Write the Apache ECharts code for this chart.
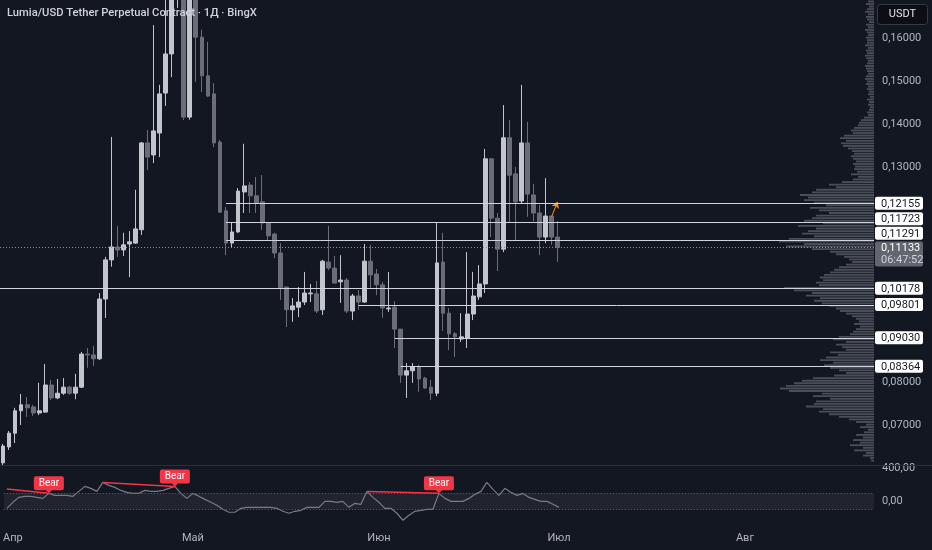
<!DOCTYPE html>
<html><head><meta charset="utf-8">
<script src="https://cdn.jsdelivr.net/npm/echarts@6/dist/echarts.min.js"></script>
<style>html,body{margin:0;padding:0;background:#131722;}#c{width:932px;height:550px;}</style>
</head><body><div id="c"></div>
<script>
const chartTitle = 'Lumia/USD Tether Perpetual Contract · 1Д · BingX';
const quoteCurrency = 'USDT';
const firstDay = [2025, 2, 31];
const totalDays = 145;
const monthNames = ['Янв','Фев','Мар','Апр','Май','Июн','Июл','Авг','Сен','Окт','Ноя','Дек'];
const priceTickValues = [0.07, 0.08, 0.13, 0.14, 0.15, 0.16];
const oscTickValues = [0, 400];
// [open, close, low, high]
const candles = [
[0.0612,0.0651,0.0607,0.0656],[0.0649,0.0681,0.0642,0.0686],[0.0681,0.0733,0.0658,0.0740],
[0.0733,0.0747,0.0700,0.0772],[0.0747,0.0740,0.0719,0.0765],[0.0742,0.0728,0.0721,0.0747],
[0.0728,0.0733,0.0723,0.0798],[0.0730,0.0793,0.0728,0.0842],[0.0793,0.0763,0.0758,0.0805],
[0.0763,0.0774,0.0760,0.0807],[0.0774,0.0788,0.0770,0.0809],[0.0788,0.0774,0.0770,0.0791],
[0.0774,0.0788,0.0760,0.0819],[0.0788,0.0865,0.0786,0.0870],[0.0865,0.0863,0.0833,0.0879],
[0.0863,0.0854,0.0837,0.0884],[0.0854,0.0993,0.0851,0.1007],[0.0993,0.1084,0.0949,0.1091],
[0.1084,0.1114,0.1068,0.1370],[0.1114,0.1107,0.1091,0.1163],[0.1107,0.1119,0.1093,0.1147],
[0.1121,0.1126,0.1044,0.1151],[0.1123,0.1156,0.1121,0.1247],[0.1154,0.1356,0.1142,0.1358],
[0.1356,0.1323,0.1293,0.1386],[0.1328,0.1384,0.1309,0.1630],[0.1379,0.1470,0.1323,0.1491],
[0.1472,0.1563,0.1442,0.1720],[0.1563,0.1760,0.1509,0.1820],[0.1760,0.1850,0.1670,0.1950],
[0.1870,0.1416,0.1409,0.1950],[0.1416,0.1800,0.1410,0.1850],[0.1780,0.1602,0.1498,0.1830],
[0.1602,0.1512,0.1474,0.1619],[0.1512,0.1465,0.1463,0.1591],[0.1470,0.1356,0.1346,0.1495],
[0.1358,0.1195,0.1193,0.1363],[0.1198,0.1123,0.1095,0.1207],[0.1123,0.1149,0.1112,0.1170],
[0.1149,0.1244,0.1147,0.1251],[0.1242,0.1256,0.1193,0.1354],[0.1258,0.1233,0.1193,0.1265],
[0.1233,0.1216,0.1193,0.1277],[0.1219,0.1170,0.1154,0.1281],[0.1170,0.1140,0.1130,0.1172],
[0.1144,0.1100,0.1088,0.1147],[0.1100,0.1019,0.0991,0.1123],[0.1021,0.0968,0.0928,0.1021],
[0.0968,0.0977,0.0940,0.0995],[0.0974,0.0986,0.0951,0.1021],[0.0986,0.1007,0.0979,0.1056],
[0.1005,0.1007,0.0986,0.1028],[0.1005,0.0965,0.0960,0.1035],[0.0968,0.1081,0.0956,0.1084],
[0.1079,0.1065,0.1060,0.1163],[0.1065,0.1030,0.1030,0.1093],[0.1033,0.1037,0.0984,0.1095],
[0.1037,0.0965,0.0960,0.1042],[0.0965,0.1000,0.0944,0.1005],[0.1000,0.0986,0.0968,0.1014],
[0.0986,0.1081,0.0984,0.1121],[0.1081,0.1049,0.1019,0.1119],[0.1051,0.1026,0.1002,0.1063],
[0.1026,0.0972,0.0949,0.1033],[0.0970,0.0972,0.0963,0.1056],[0.0974,0.0923,0.0879,0.0988],
[0.0923,0.0816,0.0798,0.0923],[0.0816,0.0826,0.0763,0.0844],[0.0826,0.0835,0.0798,0.0844],
[0.0835,0.0807,0.0777,0.0840],[0.0809,0.0786,0.0784,0.0812],[0.0788,0.0774,0.0758,0.0805],
[0.0774,0.1077,0.0767,0.1172],[0.1079,0.0960,0.0919,0.1147],[0.0960,0.0912,0.0874,0.0972],
[0.0912,0.0905,0.0858,0.0916],[0.0900,0.0905,0.0893,0.0960],[0.0902,0.0958,0.0879,0.1102],
[0.0958,0.1000,0.0944,0.1056],[0.0998,0.1028,0.0991,0.1072],[0.1028,0.1319,0.1007,0.1342],
[0.1319,0.1181,0.1137,0.1321],[0.1181,0.1109,0.1058,0.1193],[0.1109,0.1368,0.1102,0.1444],
[0.1368,0.1281,0.1172,0.1409],[0.1284,0.1219,0.1130,0.1300],[0.1221,0.1356,0.1216,0.1491],
[0.1356,0.1237,0.1184,0.1405],[0.1235,0.1193,0.1174,0.1261],[0.1193,0.1137,0.1095,0.1212],
[0.1137,0.1186,0.1123,0.1274],[0.1186,0.1137,0.1119,0.1186],[0.1137,0.11133,0.1079,0.1174]
];
const oscillator = [
-85,-12,48,61,61,48,36,97,73,73,
73,61,121,182,158,121,230,194,170,133,
109,97,97,133,121,121,133,158,182,97,
36,97,61,24,-12,-48,-97,-133,-133,-85,
-73,-73,-73,-73,-73,-85,-121,-145,-121,-109,
-73,-73,-73,0,0,-12,0,-73,-24,-36,
121,48,-12,-85,-85,-145,-230,-170,-121,-109,
-97,-97,97,36,0,0,0,36,85,121,
230,145,73,158,109,73,97,48,24,0,
0,-36,-73
];
const oscBand = [100, -100];
// divergence: [startIndex, startValue, endIndex, endValue]
const bearDivergences = [[0,150,7,97],[16,230,28,182],[60,121,72,97]];
const levels = [0.12155, 0.11723, 0.11291, 0.10178, 0.09801, 0.09030, 0.08364];
const levelStart = [37, 37, 37, null, 59, 65, 66];
const lastPrice = 0.11133;
const countdown = '06:47:52';
const arrowMark = [[91, 0.1184], [92, 0.1219]];
const profileTop = 0.1685;
const profileStep = 0.0006;
const profileVolume = [
6,8,5,7,9,6,8,7,5,8,6,9,7,6,8,7,
7,9,6,8,7,9,8,6,7,9,8,7,6,8,9,7,8,6,7,
5,6,4,7,5,6,4,5,7,6,
10,13,15,16,
20,23,21,
30,34,28,33,31,26,
22,20,23,21,
18,21,19,20,
17,23,16,21,
32,45,38,58,
62,74,66,70,
60,48,64,55,45,58,
62,70,51,76,58,66,72,60,
85,95,70,88,62,
44,38,30,25,22,28,35,40,44,50,
54,51,58,55,
90,80,
62,68,54,
60,52,45,38,
34,28,22,18,
15,20,14,18,21,24,
35,41,28,38,
32,28,44,36,
48,54,41,50,
44,35,28,40,
61,72,80,88,
94,85,
52,61,44,58,
60,68,51,55,
45,35,25,18,
8,14,6,10,
18,11,21,
14,24,11,20,
8,11,4,3
];

const categories = [];
const d0 = Date.UTC(firstDay[0], firstDay[1], firstDay[2]);
for (let k = 0; k < totalDays; k++) categories.push(new Date(d0 + k * 86400000).toISOString().slice(0, 10));

const FONT = 'Roboto, "Noto Sans", sans-serif';
const comma = (v, n) => v.toFixed(n).replace('.', ',');
const upColor = '#c3c5cc', downColor = '#6b6e79';

function levelRender(params, api) {
  const cs = params.coordSys;
  const right = cs.x + cs.width;
  const i = params.dataIndex;
  const lastY = api.coord([0, lastPrice])[1];
  const fixedTop = lastY - 6, fixedBot = lastY + 19;
  const H = 13, gap = 1.5;
  const ys = levels.map(p => api.coord([0, p])[1]);
  const tops = ys.map(y => y - H / 2);
  const order = ys.map((y, k) => k).sort((a, b) => ys[a] - ys[b]);
  let limit = fixedTop - gap;
  for (let j = order.length - 1; j >= 0; j--) {
    const k = order[j]; if (ys[k] >= lastY) continue;
    if (tops[k] + H > limit) tops[k] = limit - H;
    limit = tops[k] - gap;
  }
  limit = fixedBot + gap;
  for (let j = 0; j < order.length; j++) {
    const k = order[j]; if (ys[k] < lastY) continue;
    if (tops[k] < limit) tops[k] = limit;
    limit = tops[k] + H + gap;
  }
  const y = Math.round(ys[i]) + 0.5;
  const x0 = levelStart[i] == null ? cs.x : api.coord([levelStart[i], levels[i]])[0];
  return { type: 'group', children: [
    { type: 'line', shape: { x1: x0, y1: y, x2: right, y2: y }, style: { stroke: '#d1d4dc', lineWidth: 1 } },
    { type: 'rect', shape: { x: right + 1, y: tops[i], width: 48, height: H, r: 2 }, style: { fill: '#ffffff' } },
    { type: 'text', style: { x: right + 7, y: tops[i] + H / 2 + 0.5, text: comma(levels[i], 5), fill: '#131722', font: '11px ' + FONT, verticalAlign: 'middle' } }
  ]};
}
function lastRender(params, api) {
  const cs = params.coordSys;
  const right = cs.x + cs.width;
  const y = Math.round(api.coord([0, lastPrice])[1]) + 0.5;
  return { type: 'group', children: [
    { type: 'line', shape: { x1: cs.x, y1: y, x2: right, y2: y }, style: { stroke: '#8a8d96', lineWidth: 1, lineDash: [1, 2] } },
    { type: 'rect', shape: { x: right + 1, y: y - 6, width: 48, height: 25, r: 2 }, style: { fill: '#63666f' } },
    { type: 'text', style: { x: right + 7, y: y + 0.5, text: comma(lastPrice, 5), fill: '#ffffff', font: '11px ' + FONT, verticalAlign: 'middle' } },
    { type: 'text', style: { x: right + 7, y: y + 12.5, text: countdown, fill: '#d1d4dc', font: '11px ' + FONT, verticalAlign: 'middle' } }
  ]};
}
function profileRender(params, api) {
  const v = api.value(0), p = api.value(1);
  const a = api.coord([v, p]);
  const b = api.coord([0, p]);
  const h = Math.abs(api.size([0, profileStep])[1]) * 0.72;
  return { type: 'rect', shape: { x: a[0], y: a[1] - h / 2, width: b[0] - a[0], height: h }, style: { fill: 'rgba(120,123,134,0.55)' } };
}

const chart = echarts.init(document.getElementById('c'), null, { renderer: 'canvas' });
chart.setOption({
  backgroundColor: '#131722',
  animation: false,
  textStyle: { fontFamily: FONT },
  grid: [
    { left: 0, top: 0, width: 874, height: 468 },
    { left: 0, top: 466, width: 874, height: 60 }
  ],
  xAxis: [
    { type: 'category', gridIndex: 0, data: categories, boundaryGap: true, axisLine: { show: false }, axisTick: { show: false }, axisLabel: { show: false }, splitLine: { show: false } },
    { type: 'value', gridIndex: 0, min: 0, max: 874, inverse: true, show: false },
    { type: 'category', gridIndex: 1, data: categories, boundaryGap: true, axisLine: { show: false }, axisTick: { show: false }, splitLine: { show: false },
      axisLabel: { color: '#b2b5be', fontSize: 11, margin: 7, fontFamily: FONT,
        interval: (idx, val) => val.slice(8) === '01',
        formatter: val => monthNames[+val.slice(5, 7) - 1] } }
  ],
  yAxis: [
    { type: 'value', gridIndex: 0, position: 'right', min: 0.06, max: 0.168837, interval: 0.01, scale: true,
      axisLine: { show: false }, axisTick: { show: false }, splitLine: { show: false },
      axisLabel: { color: '#b2b5be', fontSize: 11, margin: 8, fontFamily: FONT,
        formatter: v => priceTickValues.some(t => Math.abs(t - v) < 1e-6) ? comma(v, 5) : '' } },
    { type: 'value', gridIndex: 1, position: 'right', min: -300, max: 430, interval: 100,
      axisLine: { show: false }, axisTick: { show: false }, splitLine: { show: false },
      axisLabel: { color: '#b2b5be', fontSize: 11, margin: 8, fontFamily: FONT, showMaxLabel: false, showMinLabel: false,
        formatter: v => oscTickValues.some(t => Math.abs(t - v) < 1e-6) ? comma(v, 2) : '' } }
  ],
  graphic: [
    { type: 'line', shape: { x1: 0, y1: 465.5, x2: 932, y2: 465.5 }, style: { stroke: '#2a2e39', lineWidth: 1 }, z: 10 },
    { type: 'text', left: 7, top: 8, style: { text: chartTitle, fill: '#d1d4dc', font: '500 11.2px ' + FONT }, z: 20 },
    { type: 'rect', shape: { x: 877.5, y: 4.5, width: 50, height: 20, r: 3 }, style: { fill: '#0c0e14', stroke: '#363a45', lineWidth: 1 }, z: 20 },
    { type: 'text', x: 902.5, y: 14.5, style: { text: quoteCurrency, fill: '#e0e3eb', font: '11px ' + FONT, align: 'center', verticalAlign: 'middle' }, z: 21 }
  ],
  series: [
    { type: 'custom', name: 'profile', xAxisIndex: 1, yAxisIndex: 0, z: 1, clip: true, silent: true,
      renderItem: profileRender,
      data: profileVolume.map((v, i) => [v, +(profileTop - i * profileStep).toFixed(5)]) },
    { type: 'candlestick', xAxisIndex: 0, yAxisIndex: 0, z: 3, barWidth: 4.3, clip: true,
      itemStyle: { color: upColor, color0: downColor, borderColor: upColor, borderColor0: downColor, borderWidth: 1 },
      data: candles,
      markLine: { silent: true, symbol: ['none', 'arrow'], symbolSize: 6, label: { show: false },
        lineStyle: { color: '#f7931a', width: 1, type: 'solid' },
        data: [[{ coord: arrowMark[0] }, { coord: arrowMark[1] }]] } },
    { type: 'custom', name: 'last', xAxisIndex: 0, yAxisIndex: 0, z: 4, clip: false, silent: true,
      renderItem: lastRender, data: [[0, lastPrice]] },
    { type: 'custom', name: 'levels', xAxisIndex: 0, yAxisIndex: 0, z: 5, clip: false, silent: true,
      renderItem: levelRender, data: levels.map((p, k) => [levelStart[k] == null ? 0 : levelStart[k], p]) },
    { type: 'line', xAxisIndex: 2, yAxisIndex: 1, data: oscillator, showSymbol: false, symbol: 'none', z: 3,
      lineStyle: { color: '#787b86', width: 1.2 },
      markArea: { silent: true, itemStyle: { color: 'rgba(178,181,190,0.09)' }, data: [[{ yAxis: oscBand[0] }, { yAxis: oscBand[1] }]] },
      markLine: { silent: true, symbol: ['none', 'none'], label: { show: false },
        data: [
          { yAxis: oscBand[0], lineStyle: { color: '#5d606b', type: [1, 2], width: 1 } },
          { yAxis: oscBand[1], lineStyle: { color: '#5d606b', type: [1, 2], width: 1 } }
        ].concat(bearDivergences.map(d => [
          { coord: [d[0], d[1]], lineStyle: { color: '#f23645', width: 1.5, type: 'solid' } },
          { coord: [d[2], d[3]] }
        ])) },
      markPoint: { silent: true,
        symbol: 'path://M2,0 H28 Q30,0 30,2 V12 Q30,14 28,14 H18 L15,17 L12,14 H2 Q0,14 0,12 V2 Q0,0 2,0 Z',
        symbolSize: [30, 17], symbolOffset: [0, -8.5],
        itemStyle: { color: '#f23645' },
        label: { show: true, formatter: 'Bear', color: '#ffffff', fontSize: 10, fontFamily: FONT, offset: [0, -1.5] },
        data: bearDivergences.map(d => ({ coord: [d[2], d[3]] })) } }
  ]
});
</script></body></html>
